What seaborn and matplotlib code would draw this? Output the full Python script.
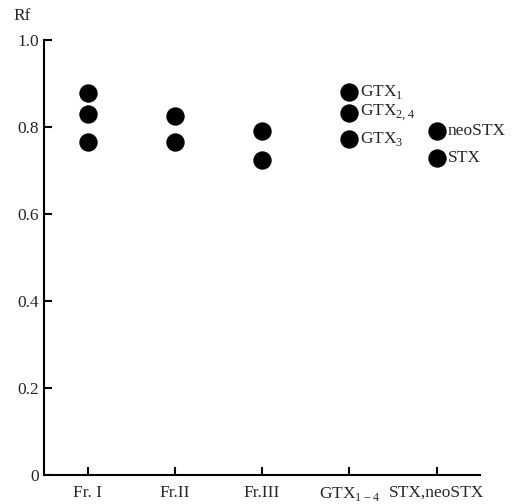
import pandas as pd
import seaborn as sns
import matplotlib.pyplot as plt

# Rf values
fractions = ['Fr. I', 'Fr.II', 'Fr.III', r'GTX$_{\mathrm{1-4}}$', 'STX,neoSTX']
fr1 = [0.878, 0.830, 0.766]
fr2 = [0.825, 0.766]
fr3 = [0.790, 0.724]
gtx = [0.880, 0.832, 0.772]
stx = [0.790, 0.728]
gtx_names = [r'GTX$_{\mathrm{1}}$', r'GTX$_{\mathrm{2,4}}$', r'GTX$_{\mathrm{3}}$']
stx_names = ['neoSTX', 'STX']

rows = []
for i, vals in enumerate([fr1, fr2, fr3, gtx, stx]):
    for v in vals:
        rows.append({'pos': i, 'Rf': v})
df = pd.DataFrame(rows)

sns.set_style('ticks')
plt.rcParams['font.family'] = ['Liberation Serif', 'DejaVu Serif']
plt.rcParams['mathtext.fontset'] = 'custom'
plt.rcParams['mathtext.rm'] = 'Liberation Serif'

fig = plt.figure(figsize=(5.15, 5.04), dpi=100)
ax = fig.add_axes([0.0854, 0.0575, 0.847, 0.863])
sns.scatterplot(data=df, x='pos', y='Rf', color='black', s=175,
                edgecolor='black', linewidth=0, ax=ax, legend=False)

for v, name in zip(gtx, gtx_names):
    ax.annotate(name, (3, v), xytext=(8, 0), textcoords='offset points',
                va='center', ha='left', fontsize=12.5)
for v, name in zip(stx, stx_names):
    ax.annotate(name, (4, v), xytext=(8, 0), textcoords='offset points',
                va='center', ha='left', fontsize=12.5)

ax.set_xlim(-0.5, 4.5)
ax.set_ylim(0, 1.0)
ax.set_xticks(range(5))
ax.set_xticklabels(fractions, fontsize=12.5)
ax.set_yticks([0, 0.2, 0.4, 0.6, 0.8, 1.0])
ax.set_yticklabels(['0', '0.2', '0.4', '0.6', '0.8', '1.0'], fontsize=12.5)
ax.tick_params(direction='in', length=6, width=1.5, color='black')
ax.tick_params(axis='x', pad=7)
ax.set_xlabel('')
ax.set_ylabel('')
for side in ['top', 'right']:
    ax.spines[side].set_visible(False)
for side in ['left', 'bottom']:
    ax.spines[side].set_linewidth(1.5)
    ax.spines[side].set_color('black')
ax.text(-0.05, 1.045, 'Rf', transform=ax.transAxes, fontsize=12.5, ha='center')

plt.savefig('out.png', dpi=100)
